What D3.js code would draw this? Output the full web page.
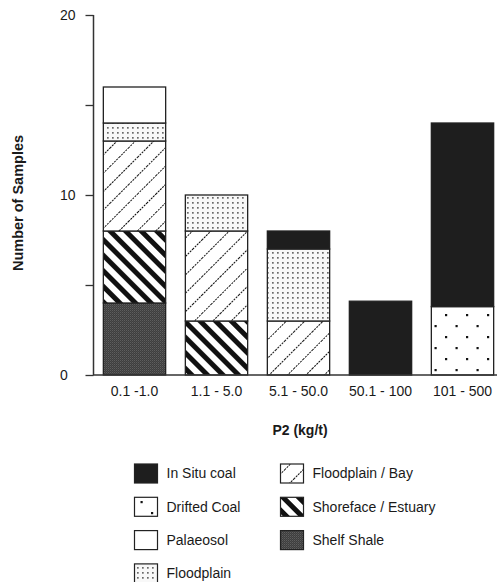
<!DOCTYPE html>
<html>
<head>
<meta charset="utf-8">
<script src="https://cdn.jsdelivr.net/npm/d3@7"></script>
<style>
  html, body { margin: 0; padding: 0; background: #fff; }
  svg { display: block; }
  text { font-family: "Liberation Sans", Arial, Helvetica, sans-serif; fill: #1a1a1a; }
</style>
</head>
<body>
<div id="chart"></div>
<script>
// ---- data ----
const categories = ["0.1 -1.0", "1.1 - 5.0", "5.1 - 50.0", "50.1 - 100", "101 - 500"];
const seriesNames = ["Shelf Shale", "Shoreface / Estuary", "Floodplain / Bay", "Drifted Coal", "Floodplain", "Palaeosol", "In Situ coal"];
const shelfShale    = [4, 0, 0, 0, 0];
const shoreface     = [4, 3, 0, 0, 0];
const floodplainBay = [5, 5, 3, 0, 0];
const driftedCoal   = [0, 0, 0, 0, 3.8];
const floodplain    = [1, 2, 4, 0, 0];
const palaeosol     = [2, 0, 0, 0, 0];
const inSituCoal    = [0, 0, 1, 4.1, 10.2];
const yTicks = [0, 10, 20];
const yMinorTicks = [5, 15];
const legendCol1 = ["In Situ coal", "Drifted Coal", "Palaeosol", "Floodplain"];
const legendCol2 = ["Floodplain / Bay", "Shoreface / Estuary", "Shelf Shale"];

const seriesValues = [shelfShale, shoreface, floodplainBay, driftedCoal, floodplain, palaeosol, inSituCoal];
const table = categories.map((c, i) => {
  const row = { cat: c };
  seriesNames.forEach((s, j) => row[s] = seriesValues[j][i]);
  return row;
});

const W = 497, H = 582;
const svg = d3.select("#chart").append("svg").attr("width", W).attr("height", H);

// ---- patterns ----
const defs = svg.append("defs");
const pid = {
  "Shelf Shale": "p-shale", "Shoreface / Estuary": "p-shore", "Floodplain / Bay": "p-fpbay",
  "Drifted Coal": "p-drift", "Floodplain": "p-fp", "Palaeosol": null, "In Situ coal": null
};
// shale: dark grey texture
let p = defs.append("pattern").attr("id", "p-shale").attr("patternUnits", "userSpaceOnUse").attr("width", 2).attr("height", 2);
p.append("rect").attr("width", 2).attr("height", 2).attr("fill", "#3e3e3e");
p.append("rect").attr("width", 1).attr("height", 1).attr("fill", "#5e5e5e");
p.append("rect").attr("x", 1).attr("y", 1).attr("width", 1).attr("height", 1).attr("fill", "#4c4c4c");
// shoreface: thick "\" stripes
p = defs.append("pattern").attr("id", "p-shore").attr("patternUnits", "userSpaceOnUse")
  .attr("width", 11).attr("height", 11).attr("patternTransform", "rotate(-45)");
p.append("rect").attr("width", 11).attr("height", 11).attr("fill", "#fff");
p.append("rect").attr("x", 0).attr("y", 0).attr("width", 5).attr("height", 11).attr("fill", "#111");
// floodplain/bay: thin "/" lines
p = defs.append("pattern").attr("id", "p-fpbay").attr("patternUnits", "userSpaceOnUse")
  .attr("width", 13).attr("height", 13).attr("patternTransform", "rotate(45)");
p.append("rect").attr("width", 13).attr("height", 13).attr("fill", "#fff");
p.append("line").attr("x1", 0).attr("y1", 0).attr("x2", 0).attr("y2", 13)
  .attr("stroke", "#111").attr("stroke-width", 2).attr("stroke-dasharray", "2,1");
// drifted coal: sparse dots
p = defs.append("pattern").attr("id", "p-drift").attr("patternUnits", "userSpaceOnUse")
  .attr("width", 21).attr("height", 22).attr("x", 0).attr("y", 2);
p.append("rect").attr("width", 21).attr("height", 22).attr("fill", "#fff");
p.append("rect").attr("x", 4).attr("y", 4).attr("width", 2.2).attr("height", 2.2).attr("fill", "#111");
p.append("rect").attr("x", 14.5).attr("y", 15).attr("width", 2.2).attr("height", 2.2).attr("fill", "#111");
// floodplain: fine stipple
p = defs.append("pattern").attr("id", "p-fp").attr("patternUnits", "userSpaceOnUse")
  .attr("width", 5).attr("height", 5);
p.append("rect").attr("width", 5).attr("height", 5).attr("fill", "#f8f8f8");
p.append("rect").attr("x", 2).attr("y", 2).attr("width", 1.7).attr("height", 1.7).attr("fill", "#6a6a6a");

function fillFor(name) {
  if (name === "Palaeosol") return "#fff";
  if (name === "In Situ coal") return "#1e1e1e";
  return "url(#" + pid[name] + ")";
}

// ---- scales ----
const x = d3.scaleBand().domain(categories).range([93.5, 503.5]).paddingInner(0.24).paddingOuter(0.12);
const y = d3.scaleLinear().domain([0, 20]).range([375, 15]);

// ---- bars ----
const stack = d3.stack().keys(seriesNames);
const stacked = stack(table);
const g = svg.append("g");
stacked.forEach(layer => {
  g.append("g").selectAll("rect")
    .data(layer.filter(d => d[1] - d[0] > 0))
    .join("rect")
    .attr("x", d => x(d.data.cat))
    .attr("width", x.bandwidth())
    .attr("y", d => y(d[1]))
    .attr("height", d => y(d[0]) - y(d[1]))
    .attr("fill", fillFor(layer.key))
    .attr("stroke", "#222")
    .attr("stroke-width", 1.3);
});

// ---- axes ----
const yAxis = svg.append("g").attr("transform", "translate(93.5,0)")
  .call(d3.axisLeft(y).tickValues(yTicks.concat(yMinorTicks)).tickSize(8).tickFormat(""));
yAxis.select(".domain").attr("d", `M0,${y(20)}V${y(0)}`).attr("stroke", "#333").attr("stroke-width", 1.5);
yAxis.selectAll(".tick line").attr("stroke", "#333").attr("stroke-width", 1.3);
svg.append("g").selectAll("text").data(yTicks).join("text")
  .attr("x", 60).attr("y", d => y(d)).attr("dy", "0.35em")
  .attr("font-size", 14).text(d => d);

const xAxis = svg.append("g").attr("transform", "translate(0,375)")
  .call(d3.axisBottom(x).tickSize(0).tickPadding(10));
xAxis.select(".domain").attr("d", "M93,0H497").attr("stroke", "#333").attr("stroke-width", 1.5);
xAxis.selectAll(".tick text").attr("font-size", 14).attr("fill", "#1a1a1a")
  .attr("font-family", "Liberation Sans, Arial, sans-serif").attr("dy", "0.75em");

// axis titles
svg.append("text").attr("transform", "translate(23,203) rotate(-90)")
  .attr("text-anchor", "middle").attr("font-size", 14.5).attr("font-weight", "bold").text("Number of Samples");
svg.append("text").attr("x", 300).attr("y", 435)
  .attr("text-anchor", "middle").attr("font-size", 14).attr("font-weight", "bold").text("P2 (kg/t)");

// ---- legend ----
function legendCol(items, sx, tx) {
  const lg = svg.append("g");
  items.forEach((name, i) => {
    const cy = 473.5 + i * 33.3;
    lg.append("rect").attr("x", sx).attr("y", cy - 9.5).attr("width", 23).attr("height", 19)
      .attr("fill", fillFor(name)).attr("stroke", "#222").attr("stroke-width", 1.2);
    lg.append("text").attr("x", tx).attr("y", cy).attr("dy", "0.35em").attr("font-size", 14).text(name);
  });
}
legendCol(legendCol1, 134.5, 166.5);
legendCol(legendCol2, 280.5, 312.5);
</script>
</body>
</html>
